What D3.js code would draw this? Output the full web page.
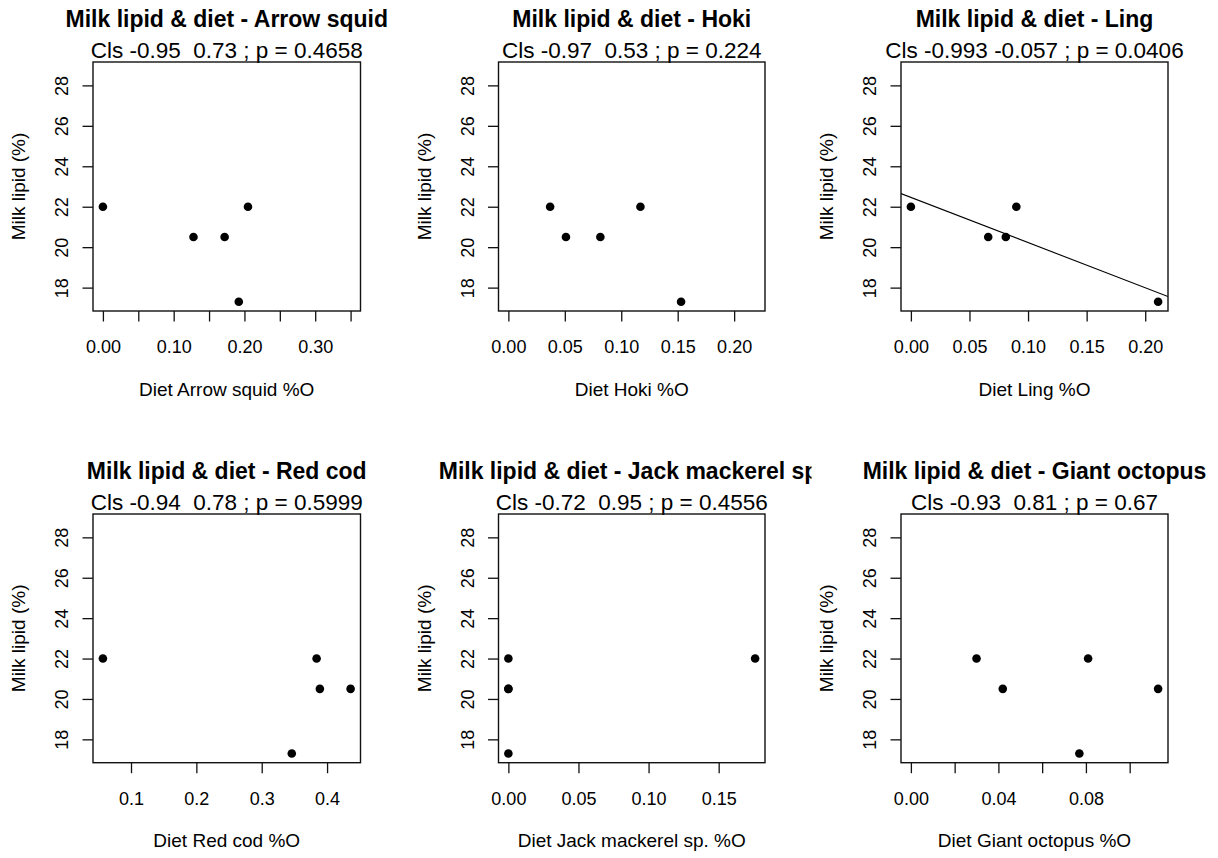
<!DOCTYPE html>
<html>
<head>
<meta charset="utf-8">
<script src="https://cdn.jsdelivr.net/npm/d3@7"></script>
<style>
  body { margin: 0; background: #fff; }
  svg { display: block; font-family: "Liberation Sans", Arial, sans-serif; }
  text { white-space: pre; fill: #000; }
</style>
</head>
<body>
<svg id="chart" width="1218" height="858"></svg>
<script>
// milk lipid (%) per sample, shared by every panel
const milkLipid = [22, 22, 20.5, 20.5, 17.3]

// diet %O per sample, same order as milkLipid
const dietArrowSquid = [0, 0.205, 0.128, 0.172, 0.192]
const dietHoki = [0.037, 0.117, 0.051, 0.0815, 0.153]
const dietLing = [0, 0.090, 0.066, 0.081, 0.211]
const dietRedCod = [0.057, 0.384, 0.389, 0.436, 0.346]
const dietJackMackerel = [0, 0.176, 0, 0, 0]
const dietGiantOctopus = [0.030, 0.081, 0.042, 0.113, 0.077]

const preyNames = ["Arrow squid", "Hoki", "Ling", "Red cod", "Jack mackerel sp.", "Giant octopus"]
const ciLabels = [
    "Cls -0.95  0.73 ; p = 0.4658",
    "Cls -0.97  0.53 ; p = 0.224",
    "Cls -0.993 -0.057 ; p = 0.0406",
    "Cls -0.94  0.78 ; p = 0.5999",
    "Cls -0.72  0.95 ; p = 0.4556",
    "Cls -0.93  0.81 ; p = 0.67"
]

// x limits (before R's 4% padding)
const xLimits = [[0, 0.35], [0, 0.2186], [0, 0.211], [0.057, 0.436], [0, 0.176], [0, 0.113]]
const yLimits = [17.3, 28.7]

// tick values and labels ("" = tick without label)
const xTicks = [
    [0, 0.05, 0.10, 0.15, 0.20, 0.25, 0.30, 0.35],
    [0, 0.05, 0.10, 0.15, 0.20],
    [0, 0.05, 0.10, 0.15, 0.20],
    [0.1, 0.2, 0.3, 0.4],
    [0, 0.05, 0.10, 0.15],
    [0, 0.02, 0.04, 0.06, 0.08, 0.10]
]
const xTickLabels = [
    ["0.00", "", "0.10", "", "0.20", "", "0.30", ""],
    ["0.00", "0.05", "0.10", "0.15", "0.20"],
    ["0.00", "0.05", "0.10", "0.15", "0.20"],
    ["0.1", "0.2", "0.3", "0.4"],
    ["0.00", "0.05", "0.10", "0.15"],
    ["0.00", "", "0.04", "", "0.08", ""]
]
const yTicks = [18, 20, 22, 24, 26, 28]
const yTickLabels = ["18", "20", "22", "24", "26", "28"]

// which panels get a fitted line
const showFit = [false, false, true, false, false, false]

const dietSeries = [dietArrowSquid, dietHoki, dietLing, dietRedCod, dietJackMackerel, dietGiantOctopus]

// layout
const boxLeft = [93, 498.5, 901]
const boxRight = [360.5, 765, 1168]
const boxTop = [62, 514]
const boxBottom = [311, 762.7]
const figWidth = 406

function padded(lim) {
    const d = (lim[1] - lim[0]) * 0.04
    return [lim[0] - d, lim[1] + d]
}

function main() {
    const svg = d3.select("#chart")
    const defs = svg.append("defs")

    preyNames.forEach(function(name, i) {
        const col = i % 3
        const row = Math.floor(i / 3)
        const x0 = boxLeft[col], x1 = boxRight[col]
        const y0 = boxTop[row], y1 = boxBottom[row]

        defs.append("clipPath").attr("id", "fig" + i)
            .append("rect")
            .attr("x", col * figWidth).attr("y", 0)
            .attr("width", col === 1 ? figWidth - 0.5 : figWidth).attr("height", 858)
        defs.append("clipPath").attr("id", "box" + i)
            .append("rect")
            .attr("x", x0).attr("y", y0)
            .attr("width", x1 - x0).attr("height", y1 - y0)

        const x = d3.scaleLinear().domain(padded(xLimits[i])).range([x0, x1])
        const y = d3.scaleLinear().domain(padded(yLimits)).range([y1, y0])

        const g = svg.append("g").attr("clip-path", "url(#fig" + i + ")")
        const cx = (x0 + x1) / 2

        g.append("text")
            .attr("x", cx).attr("y", y0 - 35.3)
            .attr("text-anchor", "middle")
            .style("font-size", "23px").style("font-weight", "bold")
            .text("Milk lipid & diet - " + name)

        g.append("text")
            .attr("x", cx).attr("y", y0 - 3.8)
            .attr("text-anchor", "middle")
            .style("font-size", "22.5px")
            .text(ciLabels[i])

        // points
        const pts = milkLipid.map(function(v, k) { return { d: dietSeries[i][k], m: v } })
        g.selectAll("circle.pt")
            .data(pts)
            .enter()
            .append("circle")
            .attr("class", "pt")
            .attr("cx", function(d) { return x(d.d) })
            .attr("cy", function(d) { return y(d.m) })
            .attr("r", 4.3)
            .attr("fill", "#000")

        // least squares line
        if (showFit[i]) {
            const xs = dietSeries[i]
            const mx = d3.mean(xs), my = d3.mean(milkLipid)
            const sxy = d3.sum(xs, function(v, k) { return (v - mx) * (milkLipid[k] - my) })
            const sxx = d3.sum(xs, function(v) { return (v - mx) * (v - mx) })
            const slope = sxy / sxx
            const icpt = my - slope * mx
            const dom = x.domain()
            g.append("line")
                .attr("clip-path", "url(#box" + i + ")")
                .attr("x1", x(dom[0])).attr("y1", y(icpt + slope * dom[0]))
                .attr("x2", x(dom[1])).attr("y2", y(icpt + slope * dom[1]))
                .attr("stroke", "#000").attr("stroke-width", 1.1)
        }

        // box
        g.append("rect")
            .attr("x", x0).attr("y", y0)
            .attr("width", x1 - x0).attr("height", y1 - y0)
            .attr("fill", "none").attr("stroke", "#111").attr("stroke-width", 1.4)

        // x axis
        const xAxis = d3.axisBottom(x)
            .tickValues(xTicks[i])
            .tickFormat(function(d, k) { return xTickLabels[i][k] })
            .tickSize(10.5)
        const gx = g.append("g").attr("transform", "translate(0," + y1 + ")").call(xAxis)
        gx.select(".domain").remove()
        gx.selectAll(".tick line").attr("stroke", "#111").attr("stroke-width", 1.3)
        gx.selectAll(".tick text")
            .attr("y", 42).attr("dy", null)
            .style("font-size", "18px").style("font-family", null)
            .attr("fill", "#000")

        // y axis
        const yAxis = d3.axisLeft(y)
            .tickValues(yTicks)
            .tickFormat(function(d, k) { return yTickLabels[k] })
            .tickSize(10.5)
        const gy = g.append("g").attr("transform", "translate(" + x0 + ",0)").call(yAxis)
        gy.select(".domain").remove()
        gy.selectAll(".tick line").attr("stroke", "#111").attr("stroke-width", 1.3)
        gy.selectAll(".tick text")
            .attr("x", null).attr("dy", null)
            .attr("transform", "translate(-25,0) rotate(-90)")
            .attr("text-anchor", "middle")
            .style("font-size", "18px").style("font-family", null)
            .attr("fill", "#000")

        // axis titles
        g.append("text")
            .attr("x", cx).attr("y", y1 + 84.5)
            .attr("text-anchor", "middle")
            .style("font-size", "19px")
            .text("Diet " + name + " %O")

        g.append("text")
            .attr("transform", "translate(" + (x0 - 68) + "," + ((y0 + y1) / 2) + ") rotate(-90)")
            .attr("text-anchor", "middle")
            .style("font-size", "19px")
            .text("Milk lipid (%)")
    })
}

main()
</script>
</body>
</html>
